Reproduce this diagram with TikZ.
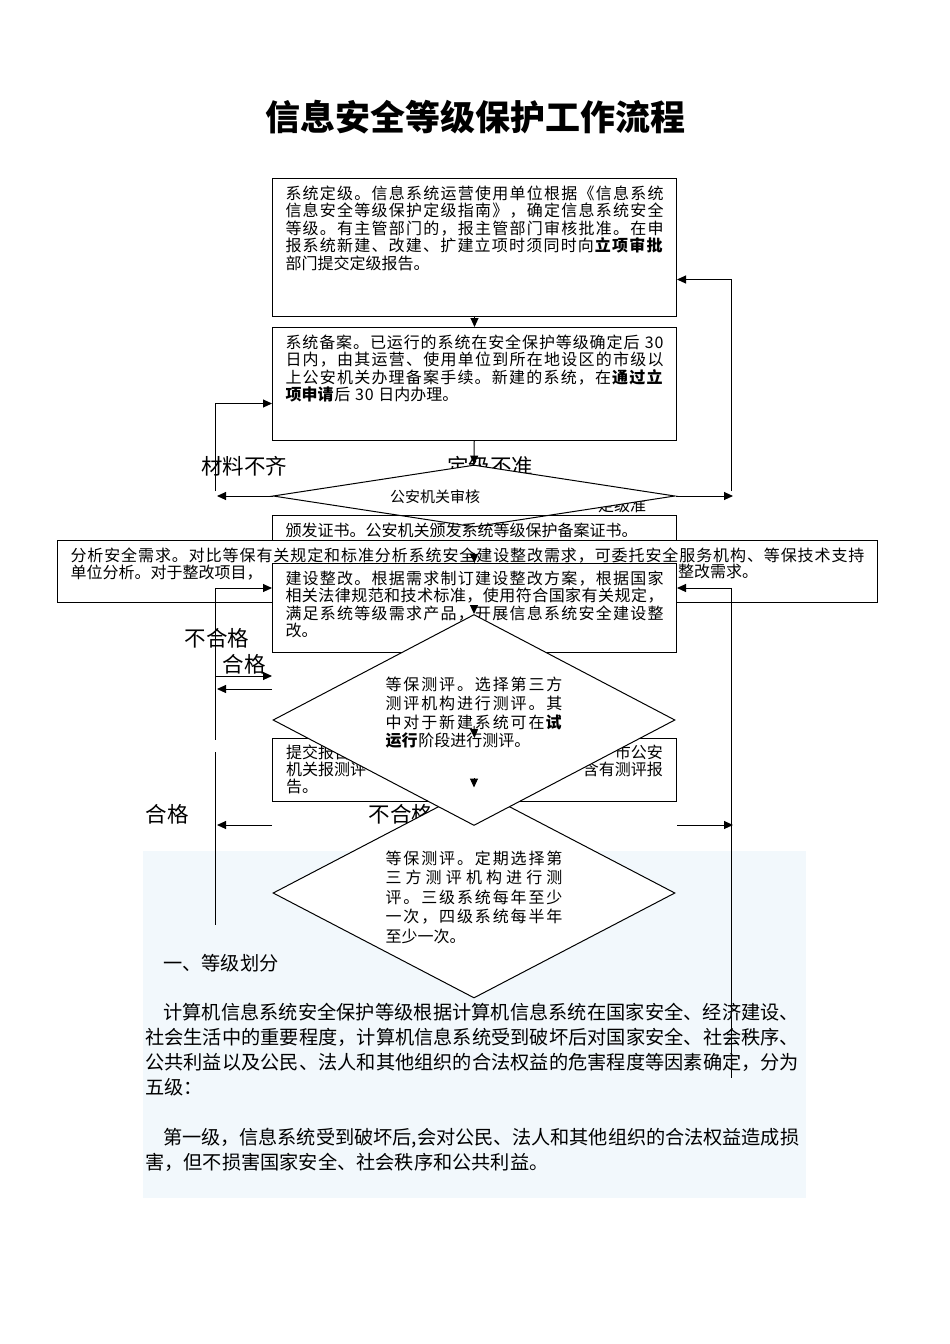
\documentclass[tikz,border=0pt]{standalone}
\usepackage{fontspec}
\usetikzlibrary{shapes.geometric,arrows.meta}
\setmainfont{Noto Sans CJK SC}
\newfontfamily\spacedfont{Noto Sans CJK SC}[LetterSpace=6]
\definecolor{paperblue}{RGB}{242,248,252}

\XeTeXinterchartokenstate=1
\newXeTeXintercharclass\cjkclass
\count255="3000
\loop
  \XeTeXcharclass\count255=\cjkclass
  \ifnum\count255<"9FFF \advance\count255 by 1
\repeat
\count255="FF00
\loop
  \XeTeXcharclass\count255=\cjkclass
  \ifnum\count255<"FFEF \advance\count255 by 1
\repeat
\XeTeXinterchartoks\cjkclass\cjkclass={\hskip 0pt plus 3pt minus 0.9pt\relax}
\tolerance=10000 \hbadness=10000

\newcommand{\flowpar}[3]{\parbox[t][#2][t]{#1}{#3}}

\begin{document}
\begin{tikzpicture}[x=1pt,y=-1pt,
    box/.style={draw, line width=1pt, fill=white, inner xsep=13pt, inner ysep=7pt, anchor=north west,
      font=\spacedfont\fontsize{16}{17.5}\selectfont},
    diam/.style={draw, diamond, line width=1pt, fill=white, inner sep=0pt, minimum width=402},
    dtext/.style={inner sep=0pt, font=\spacedfont\fontsize{16}{18.7}\selectfont},
    frag/.style={inner sep=0pt, font=\spacedfont\fontsize{16}{17.5}\selectfont},
    lab/.style={inner sep=0pt, font=\fontsize{21.5}{24}\selectfont},
    ln/.style={line width=1pt},
    arr/.style={line width=1pt, -{Triangle[length=9pt,width=8pt]}}]

    \useasboundingbox (0,0) rectangle (950,1344);
    \fill[white] (0,0) rectangle (950,1344);

    \node[font=\fontsize{35}{40}\selectfont\bfseries] (title) at (475,117) {信息安全等级保护工作流程};

    \fill[paperblue] (143,851) rectangle (806,1198);
    \node[anchor=base west, inner sep=0pt, font=\fontsize{19.2}{25}\selectfont] (dengji) at (163,970) {一、等级划分};
    \node[anchor=base west, inner sep=0pt, font=\fontsize{19.2}{25}\selectfont] (para1) at (145,1019) {\parbox[t]{654pt}{\hspace*{18pt}计算机信息系统安全保护等级根据计算机信息系统在国家安全、经济建设、\linebreak
    社会生活中的重要程度，计算机信息系统受到破坏后对国家安全、社会秩序、\linebreak
    公共利益以及公民、法人和其他组织的合法权益的危害程度等因素确定，分为\linebreak
    五级：}};
    \node[anchor=base west, inner sep=0pt, font=\fontsize{19.2}{25}\selectfont] (para2) at (145,1144) {\parbox[t]{654pt}{\hspace*{18pt}第一级，信息系统受到破坏后,会对公民、法人和其他组织的合法权益造成损\linebreak
    害，但不损害国家安全、社会秩序和公共利益。}};

    \node[lab] (cailiao) at (244,466) {材料不齐};
    \node[lab] (buzhun) at (490,466) {定级不准};
    \node[frag, font=\fontsize{16}{18}\selectfont] (zhun) at (622,505) {定级准};
    \node[lab] (bhg1) at (217,638) {不合格};
    \node[lab] (hg1) at (244,664) {合格};
    \node[lab] (hg2) at (167,814) {合格};
    \node[lab] (bhg2) at (401,814) {不合格};

    \node[box] (dingji) at (272,178) {\flowpar{378pt}{124pt}{系统定级。信息系统运营使用单位根据《信息系统\linebreak
    信息安全等级保护定级指南》，确定信息系统安全\linebreak
    等级。有主管部门的，报主管部门审核批准。在申\linebreak
    报系统新建、改建、扩建立项时须同时向\textbf{立项审批}\linebreak
    部门提交定级报告。}};
    \node[box] (beian) at (272,327) {\flowpar{378pt}{99pt}{系统备案。已运行的系统在安全保护等级确定后 30\linebreak
    日内，由其运营、使用单位到所在地设区的市级以\linebreak
    上公安机关办理备案手续。新建的系统，在\textbf{通过立}\linebreak
    \textbf{项申请}后 30 日内办理。}};

    \node[diam, minimum height=62] (shenhe) at (474,496) {};
    \node[dtext, font=\spacedfont\fontsize{15}{17}\selectfont] (shenhetxt) at (435,497) {公安机关审核};

    \node[box, fill=none] (zhengshu) at (272,515) {\flowpar{378pt}{31pt}{颁发证书。公安机关颁发系统等级保护备案证书。}};
    \node[box] (xuqiu) at (57,540) {\flowpar{794pt}{48pt}{分析安全需求。对比等保有关规定和标准分析系统安全建设整改需求，可委托安全服务机构、等保技术支持\linebreak
    单位分析。对于整改项目，}};
    \node[frag, anchor=west] (xuqiutail) at (678,571) {整改需求。};
    \node[box] (zhenggai) at (272,563) {\flowpar{378pt}{75pt}{建设整改。根据需求制订建设整改方案，根据国家\linebreak
    相关法律规范和技术标准，使用符合国家有关规定，\linebreak
    满足系统等级需求产品，开展信息系统安全建设整\linebreak
    改。}};

    \node[diam, minimum height=210] (dingqi) at (474,893) {};
    \node[dtext, font=\spacedfont\fontsize{16}{19.5}\selectfont] (dingqitxt) at (474,897) {\parbox{177pt}{等保测评。定期选择第\linebreak
    三方测评机构进行测\linebreak
    评。三级系统每年至少\linebreak
    一次，四级系统每半年\linebreak
    至少一次。}};

    \node[box, minimum width=404, minimum height=63] (baogao) at (272,738) {};
    \node[frag, anchor=west] (bgl1) at (286,752) {提交报告};
    \node[frag, anchor=west] (bgl2) at (286,769) {机关报测评};
    \node[frag, anchor=west] (bgl3) at (286,786) {告。};
    \node[frag, anchor=east] (bgr1) at (663,752) {市公安};
    \node[frag, anchor=east] (bgr2) at (663,769) {含有测评报};

    \node[diam, minimum height=211] (ceping) at (474,720) {};
    \node[dtext] (cepingtxt) at (474,713) {\parbox{177pt}{等保测评。选择第三方\linebreak
    测评机构进行测评。其\linebreak
    中对于新建系统可在\textbf{试}\linebreak
    \textbf{运行}阶段进行测评。}};

    \draw[arr] (dingji) -- (beian);
    \draw[arr] (beian) -- (shenhe);

    \coordinate (matl) at (217,496);
    \coordinate (matc) at (215,491);
    \draw[arr] (shenhe.west) -- (matl);
    \draw[arr] (matc) |- ([yshift=-19.5pt]beian.west);

    \coordinate (zjr) at (733,496);
    \coordinate (zjc) at (731,491);
    \draw[arr] (shenhe.east) -- (zjr);
    \draw[arr] (zjc) |- ([yshift=-32pt]dingji.east);

    \coordinate (zsout) at (474,553);
    \coordinate (zgout) at (474,605);
    \coordinate (cpout) at (474,726);
    \coordinate (bgout) at (474,778);
    \draw[arr] (zsout) -- (zhenggai.north);
    \draw[arr] (zgout) -- (ceping.north);
    \draw[arr] (cpout) -- (baogao.north);
    \draw[arr] (bgout) -- (dingqi.north);

    \coordinate (lt) at (215,588);
    \coordinate (lg1) at (215,740);
    \coordinate (lg2) at (215,752);
    \coordinate (lb) at (215,925);
    \draw[ln] (lt) -- (lg1);
    \draw[ln] (lg2) -- (lb);
    \draw[arr] (lt) -- (lt -| zhenggai.west);
    \coordinate (hgA) at (215,676);
    \draw[arr] (hgA) -- (hgA -| zhenggai.west);
    \coordinate (bhgA) at (217,689);
    \draw[arr] (bhgA -| zhenggai.west) -- (bhgA);
    \coordinate (hgB) at (217,825);
    \draw[arr] (hgB -| baogao.west) -- (hgB);

    \coordinate (rt) at (731,588);
    \coordinate (rb) at (731,1078);
    \draw[ln] (rt) -- (rb);
    \draw[arr] (rt) -- (rt -| zhenggai.east);
    \coordinate (bhgB) at (733,825);
    \draw[arr] (bhgB -| baogao.east) -- (bhgB);

\end{tikzpicture}
\end{document}
